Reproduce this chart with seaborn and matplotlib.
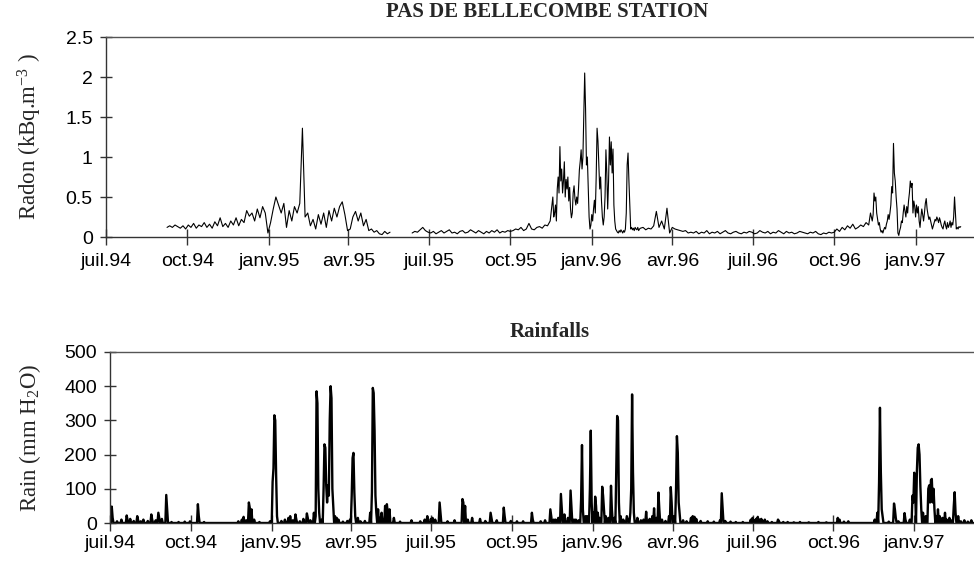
import matplotlib
matplotlib.use("Agg")
import matplotlib.pyplot as plt
import numpy as np
import pandas as pd
import seaborn as sns

# ---------------------------------------------------------------- data
origin = pd.Timestamp("1994-07-01")

tick_dates = ["1994-07-01", "1994-10-01", "1995-01-01", "1995-04-01",
              "1995-07-01", "1995-10-01", "1996-01-01", "1996-04-01",
              "1996-07-01", "1996-10-01", "1997-01-01"]
tick_labels = ["juil.94", "oct.94", "janv.95", "avr.95", "juil.95", "oct.95",
               "janv.96", "avr.96", "juil.96", "oct.96", "janv.97"]

# Radon concentration (kBq.m-3): 3-day readings, daily during the winter peaks
radon_a_start = "1994-09-08"          # every 3 days
radon_a = [0.12, 0.14, 0.12, 0.15, 0.13, 0.11, 0.14, 0.10, 0.15, 0.12,
           0.17, 0.11, 0.15, 0.13, 0.18, 0.12, 0.16, 0.11, 0.19, 0.14,
           0.24, 0.13, 0.17, 0.12, 0.20, 0.15, 0.24, 0.14, 0.22, 0.18,
           0.33, 0.26, 0.30, 0.20, 0.35, 0.24, 0.38, 0.30, 0.05, 0.18,
           0.35, 0.50, 0.40, 0.30, 0.42, 0.12, 0.33, 0.20, 0.38, 0.30,
           0.42, 1.36, 0.25, 0.30, 0.14, 0.22, 0.10, 0.28, 0.16, 0.30,
           0.12, 0.33, 0.20, 0.36, 0.25, 0.38, 0.44, 0.28, 0.08, 0.10,
           0.25, 0.32, 0.20, 0.30, 0.14, 0.22, 0.08, 0.10, 0.06, 0.08,
           0.04, 0.03, 0.07, 0.04, 0.06]

radon_b_start = "1995-06-12"          # every 3 days
radon_b = [0.05, 0.07, 0.06, 0.09, 0.12, 0.08, 0.06, 0.05, 0.07, 0.04,
           0.06, 0.08, 0.05, 0.07, 0.09, 0.05, 0.06, 0.04, 0.07, 0.08,
           0.05, 0.06, 0.09, 0.07, 0.05, 0.08, 0.06, 0.04, 0.07, 0.05,
           0.08, 0.06, 0.09, 0.05, 0.07, 0.06, 0.08, 0.07, 0.08, 0.10,
           0.09, 0.12, 0.08, 0.10, 0.17, 0.10, 0.09, 0.12, 0.13, 0.11,
           0.15, 0.14, 0.20]

radon_c_start = "1995-11-18"          # daily
radon_c = [0.50, 0.25, 0.30, 0.40, 0.20, 0.60, 0.75, 0.55, 1.13, 0.70,
           0.85, 0.55, 0.70, 0.94, 0.50, 0.72, 0.60, 0.75, 0.45, 0.62,
           0.35, 0.24, 0.30, 0.55, 0.64, 0.48, 0.40, 0.50, 0.42, 0.60,
           0.84, 0.95, 1.09, 0.85, 1.00, 1.50, 2.05, 1.60, 0.90, 1.00,
           0.60, 0.25, 0.10, 0.15, 0.28, 0.20, 0.35, 0.46, 0.30, 0.75,
           1.36, 1.20, 0.90, 0.60, 0.75, 0.45, 0.25, 0.15, 0.25, 0.50,
           1.09, 0.80, 0.35, 0.70, 1.25, 0.90, 1.19, 0.80, 1.10, 0.40,
           0.20, 0.10, 0.08, 0.06, 0.05, 0.08, 0.06, 0.09, 0.07, 0.05,
           0.08, 0.06, 0.10, 0.30, 0.90, 1.05, 0.70, 0.40, 0.10, 0.12,
           0.09, 0.11, 0.08, 0.12, 0.10, 0.09, 0.12, 0.08, 0.10, 0.11]

radon_d_start = "1996-02-28"          # every 3 days
radon_d = [0.12, 0.09, 0.11, 0.10, 0.14, 0.32, 0.12, 0.20, 0.10, 0.36,
           0.05, 0.12, 0.10, 0.09, 0.08, 0.07, 0.08, 0.05, 0.06,
           0.05, 0.07, 0.04, 0.06, 0.05, 0.08, 0.04, 0.06, 0.05, 0.07,
           0.04, 0.06, 0.08, 0.05, 0.04, 0.06, 0.07, 0.05, 0.04, 0.06,
           0.05, 0.07, 0.06, 0.04, 0.05, 0.08, 0.06, 0.05, 0.07, 0.04,
           0.06, 0.05, 0.08, 0.06, 0.04, 0.07, 0.05, 0.06, 0.04, 0.05,
           0.07, 0.06, 0.05, 0.04, 0.06, 0.05, 0.07, 0.04, 0.03, 0.05,
           0.04, 0.06, 0.05, 0.06, 0.10, 0.07, 0.12, 0.09, 0.14, 0.11,
           0.16, 0.10, 0.12, 0.15, 0.13, 0.18, 0.15]

radon_e_start = "1996-11-11"          # daily
radon_e = [0.30, 0.25, 0.20, 0.28, 0.55, 0.45, 0.50, 0.30, 0.22, 0.15,
           0.18, 0.10, 0.06, 0.08, 0.05, 0.09, 0.12, 0.10, 0.16, 0.20,
           0.28, 0.22, 0.30, 0.40, 0.63, 0.55, 1.17, 0.80, 0.70, 0.50,
           0.35, 0.05, 0.02, 0.08, 0.12, 0.20, 0.18, 0.30, 0.40, 0.32,
           0.25, 0.38, 0.30, 0.45, 0.55, 0.70, 0.62, 0.67, 0.30, 0.45,
           0.38, 0.25, 0.40, 0.30, 0.38, 0.20, 0.12, 0.25, 0.35, 0.28,
           0.20, 0.30, 0.42, 0.48, 0.35, 0.28, 0.22, 0.25, 0.20, 0.15,
           0.10, 0.14, 0.18, 0.22, 0.20, 0.25, 0.22, 0.18, 0.24, 0.20,
           0.15, 0.12, 0.10, 0.16, 0.20, 0.14, 0.10, 0.18, 0.12, 0.15,
           0.20, 0.12, 0.18, 0.15, 0.25, 0.50, 0.30, 0.10, 0.12, 0.10,
           0.13, 0.12, 0.13]

# Daily rainfall (mm H2O): day number counted from 1 July 1994, amount
rain_day = [2, 3, 8, 13, 19, 20, 23, 27, 31, 32,
            35, 38, 43, 47, 48, 52, 55, 56, 59, 64,
            65, 70, 78, 85, 91, 100, 101, 107, 146, 150,
            152, 155, 158, 159, 161, 164, 170, 182, 185, 186,
            187, 188, 189, 190, 195, 199, 203, 205, 208, 211,
            212, 216, 220, 224, 225, 228, 232, 234, 235, 236,
            237, 238, 241, 243, 244, 245, 246, 247, 248, 249,
            250, 251, 252, 253, 254, 256, 258, 260, 265, 270,
            273, 275, 276, 277, 278, 279, 282, 285, 290, 296,
            298, 299, 300, 301, 302, 303, 305, 307, 309, 313,
            315, 316, 318, 323, 330, 343, 353, 358, 361, 365,
            367, 370, 375, 376, 384, 392, 401, 402, 404, 407,
            412, 421, 427, 433, 434, 440, 448, 449, 456, 463,
            470, 480, 481, 490, 495, 501, 502, 505, 507, 510,
            513, 514, 517, 521, 524, 525, 528, 530, 533, 536,
            537, 538, 541, 543, 546, 547, 548, 550, 552, 553,
            555, 557, 560, 561, 562, 564, 567, 570, 571, 574,
            576, 577, 578, 579, 581, 584, 588, 589, 592, 593,
            594, 595, 596, 600, 604, 607, 610, 614, 617, 619,
            622, 624, 625, 628, 632, 636, 638, 639, 642, 644,
            645, 646, 647, 648, 652, 656, 661, 663, 665, 667,
            672, 680, 687, 694, 696, 697, 700, 706, 712, 720,
            729, 731, 733, 735, 737, 739, 741, 743, 745, 748,
            753, 760, 761, 766, 771, 778, 785, 795, 806, 815,
            828, 830, 835, 840, 870, 873, 875, 876, 877, 878,
            879, 886, 892, 893, 894, 897, 904, 905, 910, 913,
            914, 915, 916, 918, 919, 920, 921, 922, 923, 925,
            928, 931, 932, 933, 934, 935, 936, 937, 938, 940,
            942, 944, 947, 950, 952, 955, 958, 960, 961, 962,
            965, 968, 972, 976, 980]
rain_mm = [48, 15, 5, 10, 22, 8, 12, 6, 20, 8,
           5, 10, 6, 25, 10, 8, 30, 15, 12, 82,
           40, 3, 3, 4, 5, 55, 20, 3, 5, 10,
           18, 8, 60, 45, 40, 10, 3, 5, 120, 160,
           315, 300, 140, 20, 6, 10, 15, 20, 8, 25,
           10, 5, 12, 28, 15, 8, 30, 20, 385, 350,
           100, 30, 10, 100, 230, 220, 110, 60, 110, 80,
           300, 400, 365, 100, 50, 20, 15, 10, 4, 6,
           10, 80, 190, 205, 90, 20, 15, 5, 6, 30,
           90, 395, 380, 270, 80, 30, 40, 15, 30, 50,
           55, 30, 40, 15, 4, 8, 5, 10, 20, 12,
           15, 10, 60, 30, 5, 8, 70, 60, 50, 10,
           15, 12, 6, 30, 15, 8, 45, 20, 6, 5,
           5, 30, 10, 5, 8, 40, 20, 10, 10, 15,
           85, 40, 25, 15, 95, 50, 10, 10, 8, 70,
           228, 40, 20, 20, 100, 270, 60, 30, 77, 50,
           30, 15, 106, 80, 40, 20, 15, 109, 40, 15,
           150, 313, 300, 60, 20, 10, 20, 10, 30, 100,
           376, 150, 30, 15, 8, 10, 33, 12, 20, 43,
           15, 89, 40, 10, 6, 20, 105, 60, 20, 100,
           254, 205, 60, 30, 8, 5, 15, 20, 18, 12,
           6, 5, 4, 8, 87, 45, 6, 4, 3, 3,
           10, 15, 8, 12, 18, 10, 12, 6, 10, 5,
           3, 10, 6, 3, 3, 2, 3, 2, 3, 2,
           15, 10, 4, 5, 10, 30, 120, 337, 150, 40,
           20, 4, 57, 40, 15, 5, 29, 10, 10, 80,
           60, 147, 100, 150, 220, 230, 200, 106, 40, 30,
           20, 100, 110, 60, 125, 129, 60, 100, 40, 20,
           40, 20, 15, 30, 10, 15, 8, 50, 90, 30,
           20, 5, 8, 4, 8]
rain_last_day = "1997-03-12"

# ---------------------------------------------------------------- tables
def radon_segment(start, values, step_days, run):
    dates = pd.date_range(start, periods=len(values), freq=f"{step_days}D")
    return pd.DataFrame({"date": dates, "radon": values, "run": run})

radon_df = pd.concat([
    radon_segment(radon_a_start, radon_a, 3, 0),
    radon_segment(radon_b_start, radon_b, 3, 1),
    radon_segment(radon_c_start, radon_c, 1, 1),
    radon_segment(radon_d_start, radon_d, 3, 1),
    radon_segment(radon_e_start, radon_e, 1, 1),
], ignore_index=True).sort_values("date")

days = pd.date_range(origin, rain_last_day, freq="D")
rain = pd.Series(0.0, index=days)
for d, mm in zip(rain_day, rain_mm, strict=True):
    rain.iloc[d] = mm
rain_df = pd.DataFrame({"date": days, "rain": rain.values})

# ---------------------------------------------------------------- style
sns.set_theme(style="ticks")
plt.rcParams.update({
    "font.family": ["Liberation Sans", "DejaVu Sans"],
    "mathtext.default": "regular",
    "axes.edgecolor": "#333333",
    "axes.linewidth": 1.0,
    "xtick.color": "#333333",
    "ytick.color": "#333333",
    "xtick.labelcolor": "black",
    "ytick.labelcolor": "black",
})

fig = plt.figure(figsize=(9.74, 5.62), dpi=100)
ax_top = fig.add_axes([106 / 974, 1 - 237 / 562, 868 / 974, 200 / 562])
ax_bot = fig.add_axes([110 / 974, 1 - 523 / 562, 864 / 974, 171 / 562])

sns.lineplot(data=radon_df, x="date", y="radon", units="run", estimator=None,
             color="black", linewidth=0.8, ax=ax_top)
sns.lineplot(data=rain_df, x="date", y="rain", color="black",
             linewidth=1.7, ax=ax_bot)

tick_pos = pd.to_datetime(tick_dates)
serif = ["Liberation Serif", "DejaVu Serif"]

def dress(ax, xmax, yticks, ylabels, ylim, ylabel, label_x, xpad):
    ax.set_xlim(origin, pd.Timestamp(xmax))
    ax.set_ylim(*ylim)
    ax.set_xticks(tick_pos)
    ax.set_xticklabels(tick_labels)
    ax.set_yticks(yticks)
    ax.set_yticklabels(ylabels)
    ax.tick_params(axis="x", direction="inout", length=11, width=1.0,
                   labelsize=14, pad=xpad)
    ax.tick_params(axis="y", direction="inout", length=9, width=1.0,
                   labelsize=14, pad=5)
    for side in ("left", "bottom", "top"):
        ax.spines[side].set_visible(True)
    ax.spines["right"].set_visible(False)
    ax.spines["top"].set_color("#555555")
    ax.set_xlabel("")
    ax.set_ylabel(ylabel, fontfamily=serif, fontsize=16.5)
    ax.yaxis.set_label_coords(label_x, 0.5)

dress(ax_top, "1997-03-08", [0, 0.5, 1, 1.5, 2, 2.5],
      ["0", "0.5", "1", "1.5", "2", "2.5"], (0, 2.5),
      "Radon (kBq.m$^{-3}$ )", -0.071, 6)
dress(ax_bot, "1997-03-10", [0, 100, 200, 300, 400, 500],
      ["0", "100", "200", "300", "400", "500"], (0, 500),
      "Rain (mm H$_2$O)", -0.077, 3)

ax_top.text(0.508, 1.125, "PAS DE BELLECOMBE STATION", transform=ax_top.transAxes,
            ha="center", va="center", fontfamily=serif, fontweight="bold",
            fontsize=15)
ax_bot.text(0.509, 1.117, "Rainfalls", transform=ax_bot.transAxes,
            ha="center", va="center", fontfamily=serif, fontweight="bold",
            fontsize=15)

fig.savefig("out.png", dpi=100)
